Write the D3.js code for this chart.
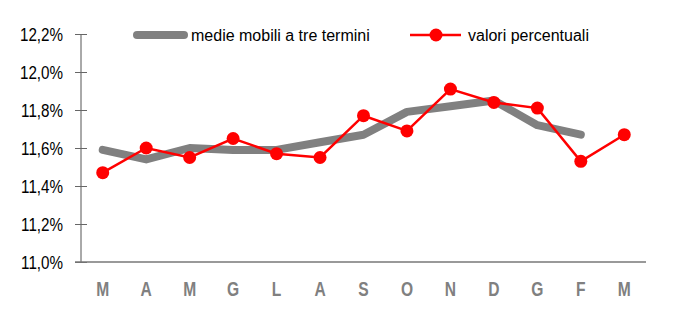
<!DOCTYPE html>
<html>
<head>
<meta charset="utf-8">
<script src="https://d3js.org/d3.v7.min.js"></script>
<style>
body{margin:0;background:#fff;}
text{font-family:"Liberation Sans",Arial,sans-serif;}
</style>
</head>
<body>
<script>
var width = 693, height = 313;
var months = ["M","A","M","G","L","A","S","O","N","D","G","F","M"];
var valori = [11.47,11.60,11.55,11.65,11.57,11.55,11.77,11.69,11.91,11.84,11.81,11.53,11.67];
var medie = [11.59,11.54,11.60,11.59,11.59,11.63,11.67,11.79,11.82,11.85,11.72,11.67,null];
var yTicks = [11.0,11.2,11.4,11.6,11.8,12.0,12.2];

var plotLeft = 81, plotRight = 646, plotTop = 34, plotBottom = 262;

var svg = d3.select("body").append("svg")
.attr("width",width).attr("height",height);

var x = d3.scaleBand().domain(d3.range(months.length)).range([plotLeft,plotRight]);
var y = d3.scaleLinear().domain([11.0,12.2]).range([plotBottom,plotTop]);

// y axis
var yaxis = d3.axisLeft(y).tickValues(yTicks).tickSize(6).tickPadding(12)
.tickFormat(function(d){return d3.format(".1f")(d).replace(".",",")+"%";});
var gy = svg.append("g").attr("transform","translate(" + plotLeft + ",0)").call(yaxis);
gy.select(".domain").attr("stroke","#555").attr("d","M0," + plotTop + "V" + plotBottom);
gy.selectAll(".tick line").attr("stroke","#666").attr("x1",6);
gy.selectAll(".tick text")
.style("font-size","19px").attr("fill","#000")
.attr("transform","scale(0.8,1)")
.attr("x",-18/0.8).attr("dy","0.36em");

// x axis line
svg.append("line").attr("x1",plotLeft-6).attr("x2",plotRight)
.attr("y1",plotBottom).attr("y2",plotBottom)
.attr("stroke","#777").attr("stroke-width",1.3);

// x labels
svg.append("g").selectAll("text").data(months).enter().append("text")
.attr("transform",function(d,i){return "translate(" + (x(i)+x.bandwidth()/2) + ",296) scale(0.78,1)";})
.attr("text-anchor","middle")
.style("font-size","20px").style("font-weight","bold")
.attr("fill","#808080")
.text(function(d){return d;});

// moving average
var lineM = d3.line()
.defined(function(d){return d != null;})
.x(function(d,i){return x(i)+x.bandwidth()/2;})
.y(function(d){return y(d);});
svg.append("path").datum(medie).attr("d",lineM)
.attr("fill","none").attr("stroke","#808080").attr("stroke-width",8)
.attr("stroke-linecap","round").attr("stroke-linejoin","round");

// valori percentuali
svg.append("path").datum(valori).attr("d",lineM)
.attr("fill","none").attr("stroke","#ff0000").attr("stroke-width",2.5);
svg.append("g").selectAll("circle").data(valori).enter().append("circle")
.attr("cx",function(d,i){return x(i)+x.bandwidth()/2;})
.attr("cy",function(d){return y(d);})
.attr("r",6.5).attr("fill","#ff0000");

// legend
var lg = svg.append("g");
lg.append("line").attr("x1",137).attr("x2",184).attr("y1",35).attr("y2",35)
.attr("stroke","#808080").attr("stroke-width",8).attr("stroke-linecap","round");
lg.append("text").attr("x",191).attr("y",41).style("font-size","16px").text("medie mobili a tre termini");
lg.append("line").attr("x1",410).attr("x2",461).attr("y1",35).attr("y2",35)
.attr("stroke","#ff0000").attr("stroke-width",2.5);
lg.append("circle").attr("cx",436).attr("cy",35).attr("r",6.5).attr("fill","#ff0000");
lg.append("text").attr("x",468).attr("y",41).style("font-size","16px").text("valori percentuali");
</script>
</body>
</html>
